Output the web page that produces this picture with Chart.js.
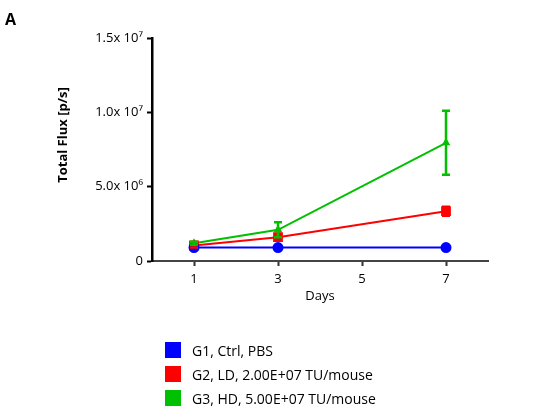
<!DOCTYPE html>
<html>
<head>
<meta charset="utf-8">
<script src="https://cdn.jsdelivr.net/npm/chart.js@4"></script>
<style>
  body { margin: 0; background: #fff; font-family: "Open Sans", sans-serif; }
  #wrap { position: relative; width: 540px; height: 418px; }
  #panel { position: absolute; left: 5px; top: 8px; font-size: 16px; font-weight: bold; color: #000; }
  #legend { position: absolute; left: 165px; top: 338px; font-size: 14px; color: #000; }
  #legend div { height: 24px; display: flex; align-items: center; }
  #legend span.box { display: inline-block; width: 16px; height: 16px; margin-right: 11px; }
</style>
</head>
<body>
<div id="wrap">
  <canvas id="myCanvas" width="540" height="418"></canvas>
  <div id="panel">A</div>
  <div id="legend"></div>
</div>
<script>
var days = [1, 3, 7];
var xTicks = [1, 3, 5, 7];
var yTicks = [0, 5e6, 1e7, 1.5e7];
var yTickLabels = ["0", "5.0x 10⁶", "1.0x 10⁷", "1.5x 10⁷"];
var yTitle = "Total Flux [p/s]";

var groupNames = ["G1, Ctrl, PBS", "G2, LD, 2.00E+07 TU/mouse", "G3, HD, 5.00E+07 TU/mouse"];
var g1 = [0.9e6, 0.9e6, 0.9e6];
var g1Err = [0.1e6, 0.1e6, 0.1e6];
var g2 = [1.05e6, 1.6e6, 3.35e6];
var g2Err = [0.15e6, 0.15e6, 0.3e6];
var g3 = [1.2e6, 2.1e6, 7.95e6];
var g3Err = [0.1e6, 0.5e6, 2.15e6];

var colors = ["#0000ff", "#ff0000", "#00c000"];

function pts(vals) {
  return vals.map(function (v, i) { return { x: days[i], y: v }; });
}

// error bars, drawn with the chart's own scales
var errorBars = {
  id: "errorBars",
  afterDatasetsDraw: function (chart) {
    var ctx = chart.ctx;
    var xs = chart.scales.x, ys = chart.scales.y;
    chart.data.datasets.forEach(function (ds) {
      ctx.save();
      ctx.strokeStyle = ds.borderColor;
      ctx.lineWidth = 2.5;
      ds.data.forEach(function (p, i) {
        var e = ds.err[i];
        var px = xs.getPixelForValue(p.x);
        var top = ys.getPixelForValue(p.y + e);
        var bot = ys.getPixelForValue(p.y - e);
        ctx.beginPath();
        ctx.moveTo(px, top); ctx.lineTo(px, bot);
        ctx.moveTo(px - 4, top); ctx.lineTo(px + 4, top);
        ctx.moveTo(px - 4, bot); ctx.lineTo(px + 4, bot);
        ctx.stroke();
      });
      ctx.restore();
    });
  }
};

// y title sits a bit above the axis middle in the original
var yTitlePlugin = {
  id: "yTitle",
  afterDraw: function (chart) {
    var ctx = chart.ctx;
    ctx.save();
    ctx.translate(63, 135);
    ctx.rotate(-Math.PI / 2);
    ctx.font = "bold 13px 'Open Sans'";
    ctx.fillStyle = "#000";
    ctx.textAlign = "center";
    ctx.textBaseline = "middle";
    ctx.fillText(yTitle, 0, 0);
    ctx.restore();
  }
};

var chartData = {
  datasets: [
    { label: groupNames[0], data: pts(g1), err: g1Err, borderColor: colors[0], backgroundColor: colors[0],
      pointStyle: "circle", pointRadius: 4.5, borderWidth: 2 },
    { label: groupNames[1], data: pts(g2), err: g2Err, borderColor: colors[1], backgroundColor: colors[1],
      pointStyle: "rect", pointRadius: 5.5, borderWidth: 2 },
    { label: groupNames[2], data: pts(g3), err: g3Err, borderColor: colors[2], backgroundColor: colors[2],
      pointStyle: "triangle", pointRadius: 3, borderWidth: 2 }
  ]
};

var ctx = document.getElementById("myCanvas");
var chart = new Chart(ctx, {
  type: "line",
  data: chartData,
  plugins: [errorBars, yTitlePlugin],
  options: {
    responsive: false,
    animation: false,
    layout: { padding: { left: 59, top: 38, right: 52, bottom: 114 } },
    plugins: { legend: { display: false }, tooltip: { enabled: false } },
    scales: {
      x: {
        type: "linear",
        min: 0, max: 8,
        afterBuildTicks: function (s) { s.ticks = xTicks.map(function (v) { return { value: v }; }); },
        afterFit: function (s) { s.height = 43; },
        grid: { drawOnChartArea: false, drawTicks: true, tickLength: 5, tickWidth: 2, tickColor: "#333" },
        border: { display: true, color: "#444", width: 2 },
        ticks: { color: "#000", padding: 5, font: { family: "Open Sans", size: 13 } },
        title: { display: true, text: "Days", color: "#000", padding: 0, font: { family: "Open Sans", size: 13 } }
      },
      y: {
        min: 0, max: 1.5e7,
        afterBuildTicks: function (s) { s.ticks = yTicks.map(function (v) { return { value: v }; }); },
        afterFit: function (s) { s.width = 93; },
        grid: { drawOnChartArea: false, drawTicks: true, tickLength: 5, tickWidth: 2, tickColor: "#000" },
        border: { display: true, color: "#000", width: 2.5 },
        ticks: {
          color: "#000", padding: 4, font: { family: "Open Sans", size: 13 },
          callback: function (v, i) { return yTickLabels[i]; }
        },
        title: { display: false }
      }
    }
  }
});

var legend = document.getElementById("legend");
chart.data.datasets.forEach(function (ds) {
  var row = document.createElement("div");
  row.innerHTML = '<span class="box" style="background:' + ds.backgroundColor + '"></span>' + ds.label;
  legend.appendChild(row);
});
</script>
</body>
</html>
